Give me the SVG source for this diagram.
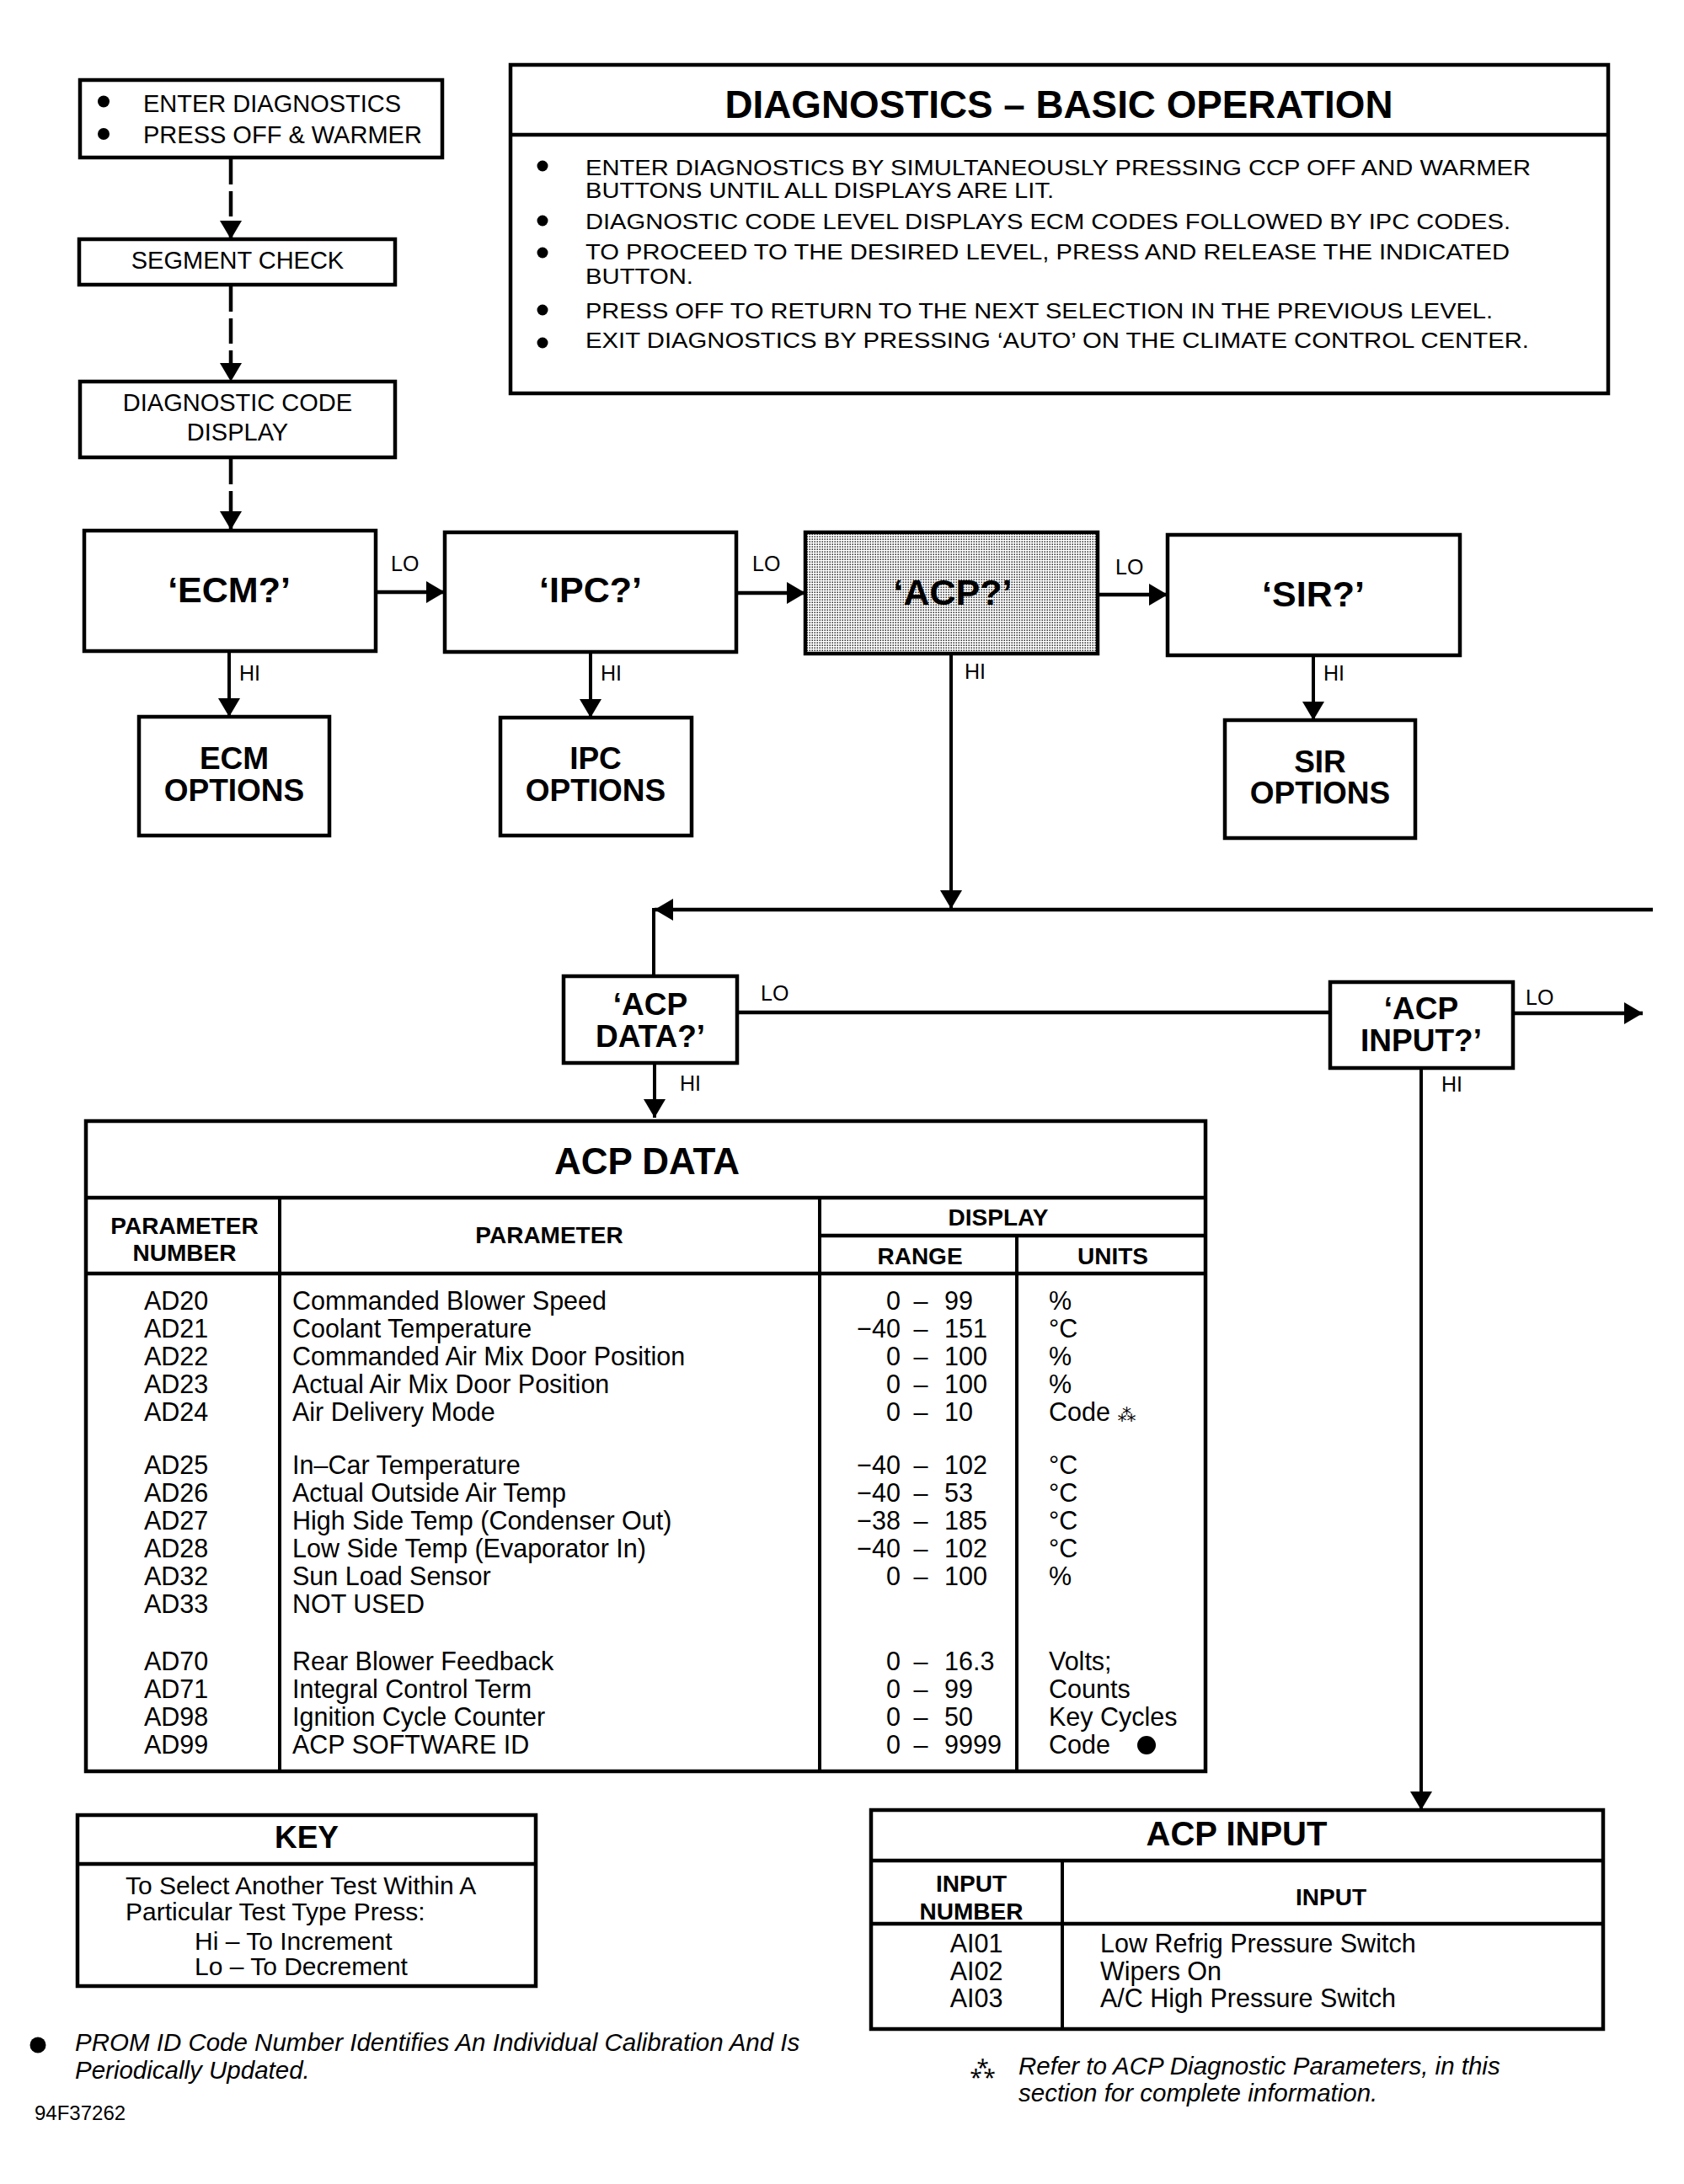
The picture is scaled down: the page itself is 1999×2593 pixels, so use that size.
<svg xmlns="http://www.w3.org/2000/svg" width="1999" height="2593" viewBox="0 0 1999 2593">
<style>
.bx{fill:#fff;stroke:#000;stroke-width:4.5}
.ln{fill:none;stroke:#000;stroke-width:4.5}
.th{fill:none;stroke:#000;stroke-width:4}
.ds{fill:none;stroke:#000;stroke-width:4.5;stroke-dasharray:30 8}
text{font-family:"Liberation Sans",Arial,Helvetica,sans-serif;fill:#000}
.b{font-weight:bold}
.c{text-anchor:middle}
.e{text-anchor:end}
.s25{font-size:25px}
.s29{font-size:29px}
.s30{font-size:30.5px}
.s28{font-size:28px}
.i{font-style:italic}
</style>
<defs>
<marker id="ah" viewBox="0 0 22 26" refX="22" refY="13" markerWidth="22" markerHeight="26" markerUnits="userSpaceOnUse" orient="auto">
<path d="M0,0 L22,13 L0,26 z" fill="#000"/>
</marker>
<pattern id="stip" width="3" height="3" patternUnits="userSpaceOnUse">
<rect width="3" height="3" fill="#fff"/>
<rect x="0.5" y="0.5" width="1.4" height="1.4" fill="#000"/>
</pattern>
</defs>
<rect width="1999" height="2593" fill="#fff"/>

<g id="enter">
<rect class="bx" x="95" y="95" width="430" height="92"/>
<circle cx="123" cy="120.5" r="7"/>
<circle cx="123" cy="159" r="7"/>
<text class="s29" x="170" y="133">ENTER DIAGNOSTICS</text>
<text class="s29" x="170" y="170">PRESS OFF &amp; WARMER</text>
</g>

<g id="segment">
<rect class="bx" x="94" y="284" width="375" height="54"/>
<text class="s29 c" x="282" y="319">SEGMENT CHECK</text>
</g>

<g id="diagcode">
<rect class="bx" x="95" y="453" width="374" height="90"/>
<text class="s29 c" x="282" y="488">DIAGNOSTIC CODE</text>
<text class="s29 c" x="282" y="523">DISPLAY</text>
</g>

<g id="basic">
<rect class="bx" x="606" y="77" width="1303" height="390"/>
<line class="ln" x1="606" y1="160" x2="1909" y2="160"/>
<text class="b c" font-size="46" x="1257" y="140" textLength="793" lengthAdjust="spacingAndGlyphs">DIAGNOSTICS – BASIC OPERATION</text>
<circle cx="644" cy="197" r="6.5"/>
<circle cx="644" cy="262" r="6.5"/>
<circle cx="644" cy="300" r="6.5"/>
<circle cx="644" cy="368" r="6.5"/>
<circle cx="644" cy="407" r="6.5"/>
<text font-size="26" x="695" y="208" textLength="1122" lengthAdjust="spacingAndGlyphs">ENTER DIAGNOSTICS BY SIMULTANEOUSLY PRESSING CCP OFF AND WARMER</text>
<text font-size="26" x="695" y="235" textLength="556" lengthAdjust="spacingAndGlyphs">BUTTONS UNTIL ALL DISPLAYS ARE LIT.</text>
<text font-size="26" x="695" y="272" textLength="1098" lengthAdjust="spacingAndGlyphs">DIAGNOSTIC CODE LEVEL DISPLAYS ECM CODES FOLLOWED BY IPC CODES.</text>
<text font-size="26" x="695" y="308" textLength="1097" lengthAdjust="spacingAndGlyphs">TO PROCEED TO THE DESIRED LEVEL, PRESS AND RELEASE THE INDICATED</text>
<text font-size="26" x="695" y="337" textLength="128" lengthAdjust="spacingAndGlyphs">BUTTON.</text>
<text font-size="26" x="695" y="378" textLength="1077" lengthAdjust="spacingAndGlyphs">PRESS OFF TO RETURN TO THE NEXT SELECTION IN THE PREVIOUS LEVEL.</text>
<text font-size="26" x="695" y="413" textLength="1120" lengthAdjust="spacingAndGlyphs">EXIT DIAGNOSTICS BY PRESSING ‘AUTO’ ON THE CLIMATE CONTROL CENTER.</text>
</g>

<g id="ecm">
<rect class="bx" x="100" y="630" width="346" height="143"/>
<text class="b c" font-size="43" x="272" y="715">‘ECM?’</text>
</g>
<g id="ipc">
<rect class="bx" x="528" y="632" width="346" height="142"/>
<text class="b c" font-size="43" x="701" y="715">‘IPC?’</text>
</g>
<g id="acp">
<rect x="956" y="632" width="347" height="144" fill="url(#stip)" stroke="#000" stroke-width="4.5"/>
<text class="b c" font-size="43" x="1131" y="718">‘ACP?’</text>
</g>
<g id="sir">
<rect class="bx" x="1386" y="635" width="347" height="143"/>
<text class="b c" font-size="43" x="1559" y="720">‘SIR?’</text>
</g>

<g id="ecmopt">
<rect class="bx" x="165" y="851" width="226" height="141"/>
<text class="b c" font-size="37" x="278" y="913">ECM</text>
<text class="b c" font-size="37" x="278" y="951">OPTIONS</text>
</g>
<g id="ipcopt">
<rect class="bx" x="594" y="852" width="227" height="140"/>
<text class="b c" font-size="37" x="707" y="913">IPC</text>
<text class="b c" font-size="37" x="707" y="951">OPTIONS</text>
</g>
<g id="siropt">
<rect class="bx" x="1454" y="855" width="226" height="140"/>
<text class="b c" font-size="37" x="1567" y="917">SIR</text>
<text class="b c" font-size="37" x="1567" y="954">OPTIONS</text>
</g>

<g id="acpdata">
<rect class="bx" x="669" y="1159" width="206" height="103"/>
<text class="b c" font-size="37" x="772" y="1205">‘ACP</text>
<text class="b c" font-size="37" x="772" y="1243">DATA?’</text>
</g>
<g id="acpinput">
<rect class="bx" x="1579" y="1166" width="217" height="102"/>
<text class="b c" font-size="37" x="1687" y="1210">‘ACP</text>
<text class="b c" font-size="37" x="1687" y="1248">INPUT?’</text>
</g>

<g id="connectors">
<line class="ds" x1="274" y1="189" x2="274" y2="284" marker-end="url(#ah)"/>
<line class="ds" x1="274" y1="340" x2="274" y2="453" marker-end="url(#ah)"/>
<line class="ds" x1="274" y1="545" x2="274" y2="629" marker-end="url(#ah)"/>
<line class="ln" x1="446" y1="703" x2="528" y2="703" marker-end="url(#ah)"/>
<line class="ln" x1="874" y1="704" x2="956" y2="704" marker-end="url(#ah)"/>
<line class="ln" x1="1303" y1="706" x2="1386" y2="706" marker-end="url(#ah)"/>
<line class="th" x1="272" y1="773" x2="272" y2="851" marker-end="url(#ah)"/>
<line class="th" x1="701" y1="774" x2="701" y2="852" marker-end="url(#ah)"/>
<line class="th" x1="1559" y1="778" x2="1559" y2="855" marker-end="url(#ah)"/>
<line class="th" x1="1129" y1="776" x2="1129" y2="1079" marker-end="url(#ah)"/>
<line class="ln" x1="1962" y1="1080" x2="777" y2="1080" marker-end="url(#ah)"/>
<line class="th" x1="776" y1="1078" x2="776" y2="1159"/>
<line class="ln" x1="875" y1="1202" x2="1579" y2="1202"/>
<line class="ln" x1="1796" y1="1203" x2="1950" y2="1203" marker-end="url(#ah)"/>
<line class="th" x1="777" y1="1262" x2="777" y2="1327" marker-end="url(#ah)"/>
<line class="th" x1="1687" y1="1268" x2="1687" y2="2149" marker-end="url(#ah)"/>
<text class="s25" x="464" y="678">LO</text>
<text class="s25" x="893" y="678">LO</text>
<text class="s25" x="1324" y="682">LO</text>
<text class="s25" x="903" y="1188">LO</text>
<text class="s25" x="1811" y="1193">LO</text>
<text class="s25" x="284" y="808">HI</text>
<text class="s25" x="713" y="808">HI</text>
<text class="s25" x="1145" y="806">HI</text>
<text class="s25" x="1571" y="808">HI</text>
<text class="s25" x="807" y="1295">HI</text>
<text class="s25" x="1711" y="1296">HI</text>
</g>

<g id="acpdatatable">
<rect class="bx" x="102" y="1331" width="1329" height="772"/>
<line class="ln" x1="102" y1="1422" x2="1431" y2="1422"/>
<line class="ln" x1="973" y1="1467" x2="1431" y2="1467"/>
<line class="ln" x1="102" y1="1512" x2="1431" y2="1512"/>
<line class="th" x1="332" y1="1422" x2="332" y2="2103"/>
<line class="th" x1="973" y1="1422" x2="973" y2="2103"/>
<line class="th" x1="1207" y1="1467" x2="1207" y2="2103"/>
<text class="b c" font-size="44" x="768" y="1394">ACP DATA</text>
<text class="b c s28" x="219" y="1465">PARAMETER</text>
<text class="b c s28" x="219" y="1497">NUMBER</text>
<text class="b c s28" x="652" y="1476">PARAMETER</text>
<text class="b c s28" x="1185" y="1455">DISPLAY</text>
<text class="b c s28" x="1092" y="1501">RANGE</text>
<text class="b c s28" x="1321" y="1501">UNITS</text>

<g class="s30">
<text x="171" y="1555">AD20</text><text x="347" y="1555">Commanded Blower Speed</text><text class="e" x="1069" y="1555">0</text><text class="c" x="1093" y="1555">–</text><text x="1121" y="1555">99</text><text x="1245" y="1555">%</text>
<text x="171" y="1588">AD21</text><text x="347" y="1588">Coolant Temperature</text><text class="e" x="1069" y="1588">−40</text><text class="c" x="1093" y="1588">–</text><text x="1121" y="1588">151</text><text x="1245" y="1588">°C</text>
<text x="171" y="1621">AD22</text><text x="347" y="1621">Commanded Air Mix Door Position</text><text class="e" x="1069" y="1621">0</text><text class="c" x="1093" y="1621">–</text><text x="1121" y="1621">100</text><text x="1245" y="1621">%</text>
<text x="171" y="1654">AD23</text><text x="347" y="1654">Actual Air Mix Door Position</text><text class="e" x="1069" y="1654">0</text><text class="c" x="1093" y="1654">–</text><text x="1121" y="1654">100</text><text x="1245" y="1654">%</text>
<text x="171" y="1687">AD24</text><text x="347" y="1687">Air Delivery Mode</text><text class="e" x="1069" y="1687">0</text><text class="c" x="1093" y="1687">–</text><text x="1121" y="1687">10</text><text x="1245" y="1687">Code <tspan font-family="DejaVu Sans, sans-serif" font-size="22">⁂</tspan></text>

<text x="171" y="1750">AD25</text><text x="347" y="1750">In–Car Temperature</text><text class="e" x="1069" y="1750">−40</text><text class="c" x="1093" y="1750">–</text><text x="1121" y="1750">102</text><text x="1245" y="1750">°C</text>
<text x="171" y="1783">AD26</text><text x="347" y="1783">Actual Outside Air Temp</text><text class="e" x="1069" y="1783">−40</text><text class="c" x="1093" y="1783">–</text><text x="1121" y="1783">53</text><text x="1245" y="1783">°C</text>
<text x="171" y="1816">AD27</text><text x="347" y="1816">High Side Temp (Condenser Out)</text><text class="e" x="1069" y="1816">−38</text><text class="c" x="1093" y="1816">–</text><text x="1121" y="1816">185</text><text x="1245" y="1816">°C</text>
<text x="171" y="1849">AD28</text><text x="347" y="1849">Low Side Temp (Evaporator In)</text><text class="e" x="1069" y="1849">−40</text><text class="c" x="1093" y="1849">–</text><text x="1121" y="1849">102</text><text x="1245" y="1849">°C</text>
<text x="171" y="1882">AD32</text><text x="347" y="1882">Sun Load Sensor</text><text class="e" x="1069" y="1882">0</text><text class="c" x="1093" y="1882">–</text><text x="1121" y="1882">100</text><text x="1245" y="1882">%</text>
<text x="171" y="1915">AD33</text><text x="347" y="1915">NOT USED</text>

<text x="171" y="1983">AD70</text><text x="347" y="1983">Rear Blower Feedback</text><text class="e" x="1069" y="1983">0</text><text class="c" x="1093" y="1983">–</text><text x="1121" y="1983">16.3</text><text x="1245" y="1983">Volts;</text>
<text x="171" y="2016">AD71</text><text x="347" y="2016">Integral Control Term</text><text class="e" x="1069" y="2016">0</text><text class="c" x="1093" y="2016">–</text><text x="1121" y="2016">99</text><text x="1245" y="2016">Counts</text>
<text x="171" y="2049">AD98</text><text x="347" y="2049">Ignition Cycle Counter</text><text class="e" x="1069" y="2049">0</text><text class="c" x="1093" y="2049">–</text><text x="1121" y="2049">50</text><text x="1245" y="2049">Key Cycles</text>
<text x="171" y="2082">AD99</text><text x="347" y="2082">ACP SOFTWARE ID</text><text class="e" x="1069" y="2082">0</text><text class="c" x="1093" y="2082">–</text><text x="1121" y="2082">9999</text><text x="1245" y="2082">Code</text>
</g>
<circle cx="1361" cy="2072" r="11"/>
</g>

<g id="key">
<rect class="bx" x="92" y="2155" width="544" height="203"/>
<line class="ln" x1="92" y1="2213" x2="636" y2="2213"/>
<text class="b c" font-size="37" x="364" y="2194">KEY</text>
<text font-size="30" x="149" y="2249">To Select Another Test Within A</text>
<text font-size="30" x="149" y="2280">Particular Test Type Press:</text>
<text font-size="30" x="231" y="2315">Hi – To Increment</text>
<text font-size="30" x="231" y="2345">Lo – To Decrement</text>
</g>

<g id="acpinputtable">
<rect class="bx" x="1034" y="2149" width="869" height="260"/>
<line class="ln" x1="1034" y1="2209" x2="1903" y2="2209"/>
<line class="ln" x1="1034" y1="2284" x2="1903" y2="2284"/>
<line class="th" x1="1261" y1="2209" x2="1261" y2="2409"/>
<text class="b c" font-size="40" x="1468" y="2191">ACP INPUT</text>
<text class="b c s28" x="1153" y="2246">INPUT</text>
<text class="b c s28" x="1153" y="2279">NUMBER</text>
<text class="b c s28" x="1580" y="2262">INPUT</text>
<text class="s30 c" x="1159" y="2318">AI01</text><text class="s30" x="1306" y="2318">Low Refrig Pressure Switch</text>
<text class="s30 c" x="1159" y="2351">AI02</text><text class="s30" x="1306" y="2351">Wipers On</text>
<text class="s30 c" x="1159" y="2383">AI03</text><text class="s30" x="1306" y="2383">A/C High Pressure Switch</text>
</g>

<g id="notes">
<circle cx="45" cy="2428" r="9.5"/>
<text class="i" font-size="29.5" x="89" y="2435">PROM ID Code Number Identifies An Individual Calibration And Is</text>
<text class="i" font-size="29.5" x="89" y="2468">Periodically Updated.</text>
<text x="1152" y="2464" font-family="DejaVu Sans, sans-serif" font-size="26">⁂</text>
<text class="i" font-size="29.5" x="1209" y="2463">Refer to ACP Diagnostic Parameters, in this</text>
<text class="i" font-size="29.5" x="1209" y="2495">section for complete information.</text>
<text font-size="24" x="41" y="2517">94F37262</text>
</g>
</svg>
